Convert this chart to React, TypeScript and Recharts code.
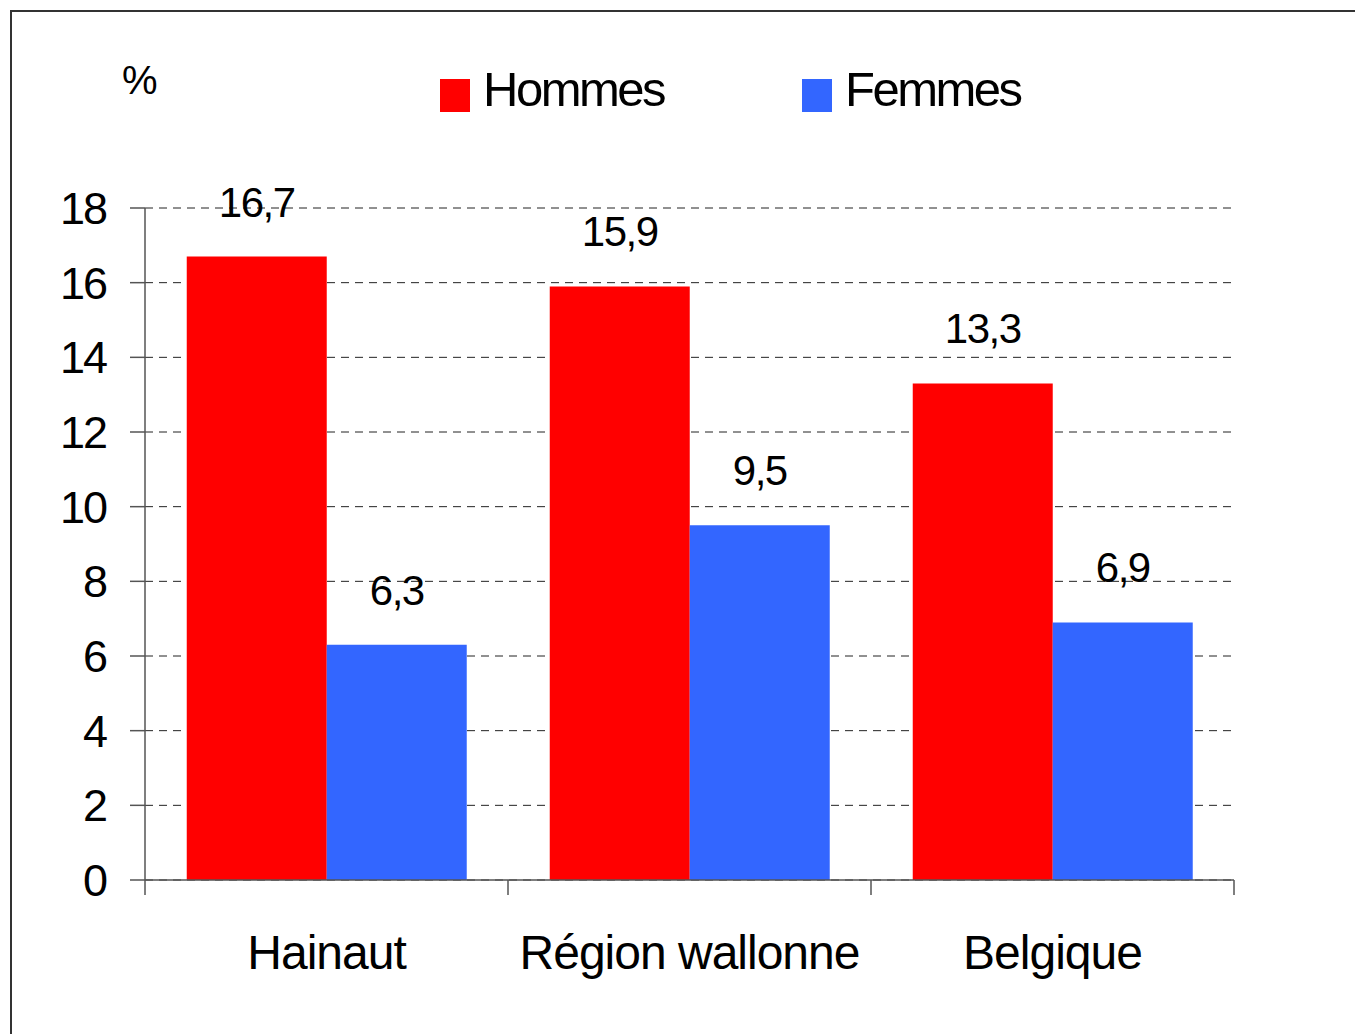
import { Bar, BarChart, CartesianGrid, LabelList, XAxis, YAxis } from 'recharts';

const categories = ['Hainaut', 'Région wallonne', 'Belgique'];
const hommes = [16.7, 15.9, 13.3];
const femmes = [6.3, 9.5, 6.9];
const yTicks = [0, 2, 4, 6, 8, 10, 12, 14, 16, 18];
const boundaryTicks = [0, 1, 2, 3];
const seriesNames = ['Hommes', 'Femmes'];
const seriesColors = ['#FF0000', '#3366FF'];

// pos: centre of each category on a 0..3 scale, used for the boundary tick axis
const data = categories.map((name, i) => ({ name, pos: i + 0.5, hommes: hommes[i], femmes: femmes[i] }));

const FONT = '"Liberation Sans", Arial, sans-serif';
const fmt = (v: number) => String(v).replace('.', ',');
const legendLeft = [440, 802];

const NoTick = () => <g />;

export default function App() {
  return (
    <div style={{ position: 'absolute', left: 0, top: 0, width: 1355, height: 1034, background: '#fff', overflow: 'hidden' }}>
      <div
        style={{
          position: 'absolute',
          left: 10,
          top: 10,
          width: 1400,
          height: 1100,
          borderTop: '2px solid #333',
          borderLeft: '2px solid #333',
        }}
      />
      <div style={{ position: 'absolute', left: 122, top: 58, fontFamily: FONT, fontSize: 40, color: '#000' }}>%</div>
      {seriesNames.map((n, i) => (
        <div key={n}>
          <span style={{ position: 'absolute', left: legendLeft[i], top: 79, width: 30, height: 33, background: seriesColors[i] }} />
          <span
            style={{
              position: 'absolute',
              left: legendLeft[i] + 43,
              top: 65,
              fontFamily: FONT,
              fontSize: 49,
              lineHeight: 1,
              letterSpacing: -2.5,
              color: '#000',
              whiteSpace: 'nowrap',
            }}
          >
            {n}
          </span>
        </div>
      ))}
      <BarChart
        width={1355}
        height={1034}
        data={data}
        margin={{ top: 208, right: 121, bottom: 54, left: 0 }}
        barCategoryGap="11.5%"
        barGap={0}
        style={{ position: 'absolute', left: 0, top: 0, fontFamily: FONT }}
      >
        <CartesianGrid vertical={false} stroke="#222" strokeDasharray="8 6" />
        <XAxis
          xAxisId="a0"
          dataKey="pos"
          type="number"
          domain={[0, 3]}
          ticks={boundaryTicks}
          interval={0}
          allowDataOverflow
          height={1}
          tickSize={15}
          tick={<NoTick />}
          axisLine={{ stroke: '#555', strokeWidth: 1.5 }}
          tickLine={{ stroke: '#555', strokeWidth: 1.5 }}
        />
        <XAxis
          dataKey="name"
          xAxisId="b1"
          height={99}
          tickLine={false}
          axisLine={false}
          tickSize={0}
          tickMargin={54}
          interval={0}
          tick={{ fill: '#000', fontSize: 48, letterSpacing: -1 }}
        />
        <YAxis
          width={145}
          domain={[0, 18]}
          ticks={yTicks}
          interval={0}
          tickSize={15}
          tickMargin={24}
          axisLine={{ stroke: '#555', strokeWidth: 1.5 }}
          tickLine={{ stroke: '#555', strokeWidth: 1.5 }}
          tick={{ fill: '#000', fontSize: 45, letterSpacing: -2 }}
        />
        <Bar dataKey="hommes" name="Hommes" xAxisId="b1" fill={seriesColors[0]} isAnimationActive={false}>
          <LabelList dataKey="hommes" position="top" offset={40} formatter={(v: any) => fmt(v)} fill="#000" fontSize={42} letterSpacing={-1.5} />
        </Bar>
        <Bar dataKey="femmes" name="Femmes" xAxisId="b1" fill={seriesColors[1]} isAnimationActive={false}>
          <LabelList dataKey="femmes" position="top" offset={40} formatter={(v: any) => fmt(v)} fill="#000" fontSize={42} letterSpacing={-1.5} />
        </Bar>
      </BarChart>
    </div>
  );
}
